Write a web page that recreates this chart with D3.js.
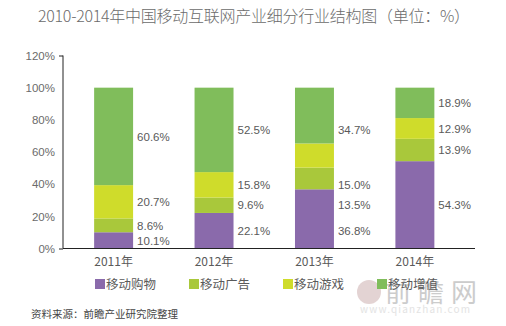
<!DOCTYPE html>
<html><head><meta charset="utf-8">
<script src="https://cdn.jsdelivr.net/npm/d3@7"></script>
<style>
html,body{margin:0;padding:0;background:#fff;}
svg{display:block;font-family:"Noto Sans CJK SC","Noto Sans",Arial,sans-serif;}
</style></head>
<body><svg id="chart" width="506" height="326"></svg>
<script>
const title = "2010-2014年中国移动互联网产业细分行业结构图（单位：%）";
const source = "资料来源：前瞻产业研究院整理";
const years = ["2011年","2012年","2013年","2014年"];
const seriesNames = ["移动购物","移动广告","移动游戏","移动增值"];
const shopping = [10.1, 22.1, 36.8, 54.3];
const advertising = [8.6, 9.6, 13.5, 13.9];
const games = [20.7, 15.8, 15.0, 12.9];
const valueAdded = [60.6, 52.5, 34.7, 18.9];
const yTicks = [0, 20, 40, 60, 80, 100, 120];
const colors = ["#8a6aab", "#a9c83b", "#cfdc2b", "#80bd5b"];

const svg = d3.select("#chart");
const rows = years.map((y, i) => ({year: y, s0: shopping[i], s1: advertising[i], s2: games[i], s3: valueAdded[i]}));
const keys = ["s0","s1","s2","s3"];
const stack = d3.stack().keys(keys)(rows);

const x = d3.scaleBand().domain(years).range([63, 465.5]).paddingInner(0.612).paddingOuter(0.31);
const y = d3.scaleLinear().domain([0, 120]).range([248.5, 55.5]);

// watermark (behind everything)
const wm = svg.append("g").attr("opacity", 0.5);
wm.append("circle").attr("cx", 369).attr("cy", 292).attr("r", 12).attr("fill", "#c9a8a8");
wm.append("text").attr("x", 385).attr("y", 302).attr("font-size", 26).attr("fill", "#9a9a9a")
  .attr("letter-spacing", 7).text("前瞻网");
wm.append("text").attr("x", 360).attr("y", 313).attr("font-size", 10).attr("fill", "#c8c8c8")
  .attr("textLength", 110).text("www.qianzhan.com");

// title
svg.append("text").attr("x", 38).attr("y", 22)
  .attr("font-size", 16).attr("font-weight", 300).attr("fill", "#6b6b6b")
  .attr("textLength", 432).text(title);

// bars
stack.forEach((layer, li) => {
  svg.append("g").selectAll("rect").data(layer).join("rect")
    .attr("x", d => x(d.data.year)).attr("width", x.bandwidth())
    .attr("y", d => y(d[1])).attr("height", d => y(d[0]) - y(d[1]))
    .attr("fill", colors[li]);
});

// value labels (2013 labels in the original sit at the same heights as 2012's)
stack.forEach((layer, li) => {
  svg.append("g").selectAll("text").data(layer).join("text")
    .attr("x", d => x(d.data.year) + x.bandwidth() + 4)
    .attr("y", (d, i) => {
      const src = i === 2 ? layer[1] : d;
      return y((src[0] + src[1]) / 2) + 4.2;
    })
    .attr("font-size", 11.5).attr("fill", "#5a5a5a").attr("font-family", "Liberation Sans, Arial, sans-serif")
    .text(d => (d[1] - d[0]).toFixed(1) + "%");
});

// y axis
const yAxis = d3.axisLeft(y).tickValues(yTicks).tickFormat(d => d + "%").tickSize(4).tickPadding(4);
const ga = svg.append("g").attr("transform", "translate(63,0)").call(yAxis);
ga.select(".domain").attr("stroke", "#222").attr("d", `M0,${y(120)}V${y(0)}`);
ga.selectAll(".tick line").attr("stroke", "#222").attr("x2", d => (d === 0 || d === 120) ? -4 : 0);
ga.selectAll(".tick text").attr("font-size", 11.5).attr("fill", "#6b6b6b").attr("font-family", "Liberation Sans, Arial, sans-serif");

// x axis line
svg.append("line").attr("x1", 63).attr("x2", 475).attr("y1", y(0)).attr("y2", y(0)).attr("stroke", "#222");
svg.append("g").selectAll("text").data(years).join("text")
  .attr("x", d => x(d) + x.bandwidth() / 2).attr("y", 266).attr("text-anchor", "middle")
  .attr("font-size", 12).attr("fill", "#5a5a5a").text(d => d);

// legend
const legX = [95, 189, 283, 377];
const leg = svg.append("g").selectAll("g").data(seriesNames).join("g")
  .attr("transform", (d, i) => `translate(${legX[i]},284)`);
leg.append("rect").attr("x", 0).attr("y", -5).attr("width", 10).attr("height", 10).attr("fill", (d, i) => colors[i]);
leg.append("text").attr("x", 11).attr("y", 4.5).attr("font-size", 12.5).attr("fill", "#5a5a5a").text(d => d);

// source
svg.append("text").attr("x", 31).attr("y", 318).attr("font-size", 10.5).attr("fill", "#444").text(source);
</script></body></html>
